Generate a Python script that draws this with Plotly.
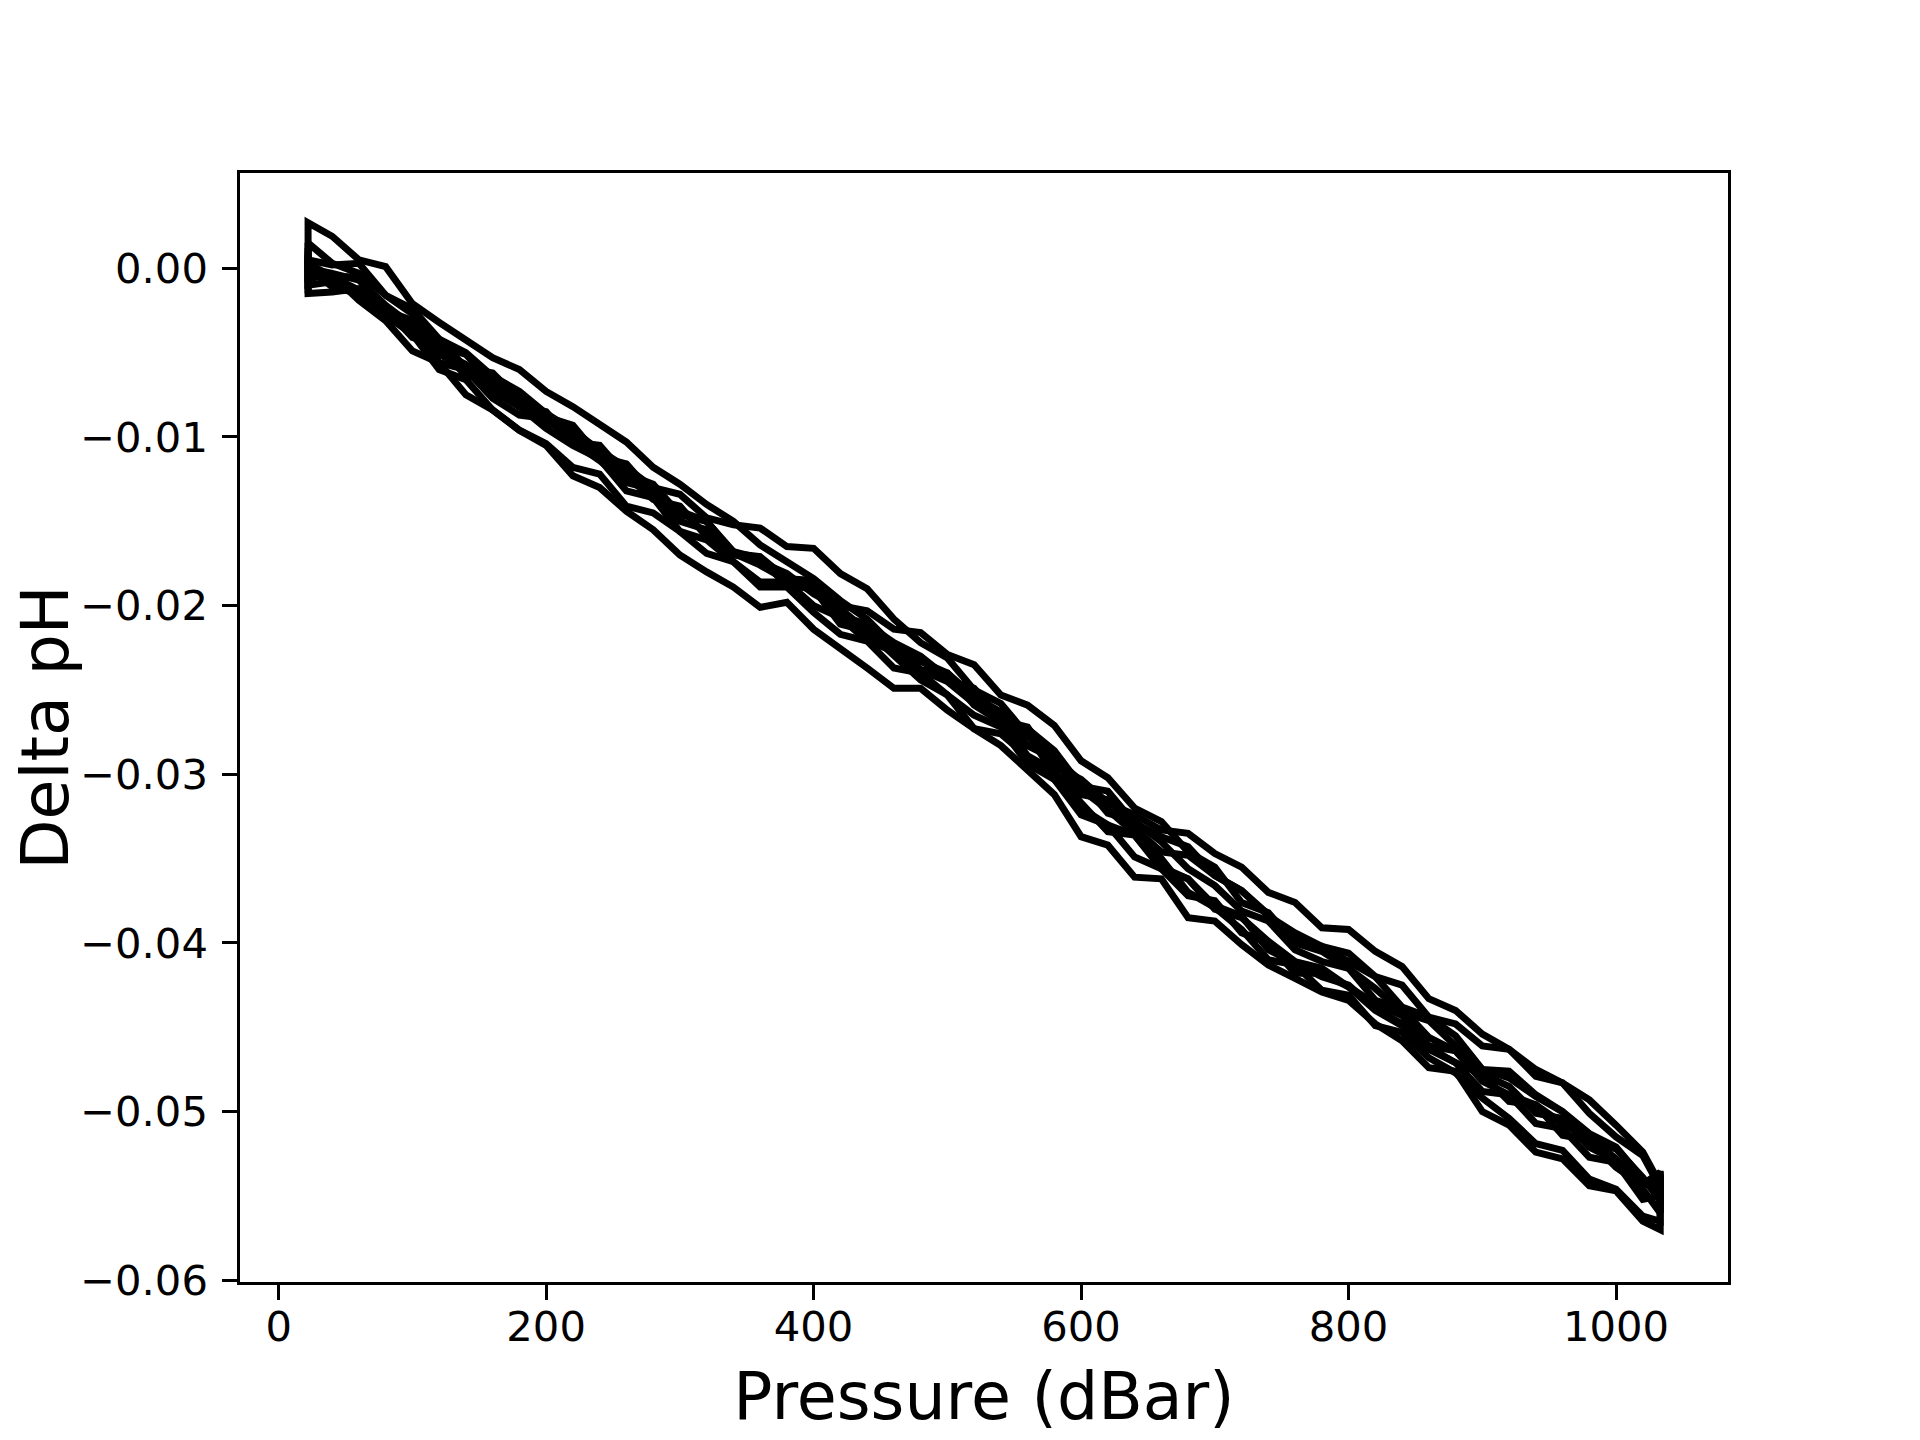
import plotly.graph_objects as go

# Pressure (dBar) for every sample; the first and last pressures repeat
pressure = [22, 22, 40, 60, 80, 100, 120, 140, 160, 180, 200, 220, 240, 260, 280, 300,
            320, 340, 360, 380, 400, 420, 440, 460, 480, 500, 520, 540, 560, 580, 600,
            620, 640, 660, 680, 700, 720, 740, 760, 780, 800, 820, 840, 860, 880, 900,
            920, 940, 960, 980, 1000, 1020, 1033, 1033]

# Delta pH of each profile, in units of 0.0001 pH
dph_1 = [-12, 27, 19, 5, 1, -21, -32, -42, -53, -60, -73, -82, -92, -103, -118, -128, -140, -150,
         -164, -174, -184, -197, -208, -224, -231, -244, -249, -267, -273, -286, -307, -310, -329,
         -337, -343, -360, -369, -383, -398, -402, -411, -420, -438, -444, -455, -475, -476, -490,
         -500, -513, -521, -540, -548, -535]
dph_2 = [2, 15, 3, -3, -16, -27, -46, -51, -68, -75, -88, -93, -112, -118, -130, -134, -148, -152,
         -154, -165, -166, -181, -190, -208, -222, -231, -250, -258, -277, -291, -304, -323, -328,
         -340, -356, -366, -381, -387, -404, -411, -415, -434, -439, -456, -464, -478, -485, -501,
         -504, -521, -529, -546, -560, -548]
dph_3 = [12, 0, -11, -15, -28, -39, -60, -66, -84, -96, -105, -123, -130, -144, -155, -170, -180,
         -189, -201, -198, -214, -225, -237, -249, -249, -262, -273, -276, -290, -303, -320, -330,
         -336, -355, -362, -378, -384, -404, -412, -420, -425, -439, -448, -462, -471, -478, -494,
         -496, -514, -517, -533, -544, -540, -552]
dph_4 = [-15, 3, -5, -5, -25, -31, -49, -57, -69, -82, -85, -103, -105, -123, -137, -141, -159,
         -168, -172, -188, -190, -211, -215, -230, -244, -253, -273, -283, -298, -312, -337, -342,
         -361, -362, -385, -387, -401, -413, -421, -429, -434, -448, -458, -474, -476, -500, -508,
         -524, -528, -544, -547, -565, -570, -557]
dph_5 = [8, 0, -3, -7, -22, -34, -42, -59, -62, -78, -92, -95, -112, -116, -134, -144, -150, -169,
         -171, -184, -185, -200, -203, -214, -216, -229, -235, -253, -259, -271, -292, -302, -320,
         -328, -346, -355, -376, -382, -400, -405, -415, -427, -441, -446, -461, -475, -480, -491,
         -500, -518, -522, -539, -553, -541]
dph_6 = [10, -3, -5, -13, -28, -36, -56, -60, -77, -87, -89, -103, -114, -127, -131, -150, -155,
         -169, -176, -185, -186, -206, -211, -222, -230, -243, -255, -268, -272, -295, -303, -317,
         -324, -333, -335, -347, -355, -370, -376, -391, -392, -405, -414, -433, -440, -454, -463,
         -479, -483, -501, -515, -526, -545, -560]
dph_7 = [4, -6, -4, -19, -31, -49, -56, -75, -84, -96, -104, -118, -122, -141, -145, -156, -169,
         -174, -186, -186, -200, -207, -221, -227, -238, -245, -258, -268, -289, -298, -317, -334,
         -336, -356, -362, -380, -385, -399, -411, -415, -426, -436, -443, -461, -464, -482, -490,
         -496, -507, -515, -528, -543, -536, -549]
dph_8 = [-8, 5, 2, 3, -16, -24, -42, -50, -64, -73, -86, -96, -108, -118, -132, -145, -150, -170,
         -172, -186, -187, -207, -217, -225, -238, -240, -259, -269, -276, -300, -309, -321, -335,
         -350, -370, -379, -392, -410, -413, -428, -431, -449, -453, -468, -477, -492, -504, -519,
         -523, -540, -546, -562, -565, -552]
dph_9 = [0, -10, -8, -16, -25, -37, -51, -59, -73, -82, -95, -105, -113, -132, -136, -156, -161,
         -174, -189, -189, -204, -217, -221, -237, -240, -253, -265, -272, -294, -303, -324, -330,
         -349, -356, -372, -375, -394, -400, -418, -418, -426, -440, -449, -463, -471, -488, -490,
         -507, -510, -527, -530, -552, -550, -538]
dph_10 = [-5, -15, -14, -12, -24, -41, -46, -64, -66, -82, -90, -99, -112, -122, -128, -146, -150,
          -168, -174, -181, -193, -202, -215, -223, -233, -240, -254, -263, -283, -291, -312, -315,
          -332, -346, -348, -360, -369, -384, -394, -402, -406, -420, -425, -444, -448, -461, -463,
          -475, -483, -493, -508, -524, -543, -556]

DPH_UNIT = 1e-4
profiles = [dph_1, dph_2, dph_3, dph_4, dph_5, dph_6, dph_7, dph_8, dph_9, dph_10]

x_tick_vals = [0, 200, 400, 600, 800, 1000]
x_tick_text = ["0", "200", "400", "600", "800", "1000"]
y_tick_vals = [0.0, -0.01, -0.02, -0.03, -0.04, -0.05, -0.06]
y_tick_text = ["0.00", "\u22120.01", "\u22120.02", "\u22120.03", "\u22120.04", "\u22120.05", "\u22120.06"]

FONT = "DejaVu Sans"

fig = go.Figure()
for prof in profiles:
    n = min(len(prof), len(pressure))
    fig.add_trace(go.Scatter(
        x=pressure[:n], y=[v * DPH_UNIT for v in prof[:n]], mode="lines",
        line=dict(color="#000000", width=7),
        showlegend=False, hoverinfo="skip",
    ))

axis_common = dict(
    showline=True, linecolor="#000000", linewidth=3.3, mirror=True,
    ticks="outside", ticklen=14.6, tickwidth=3.3, tickcolor="#000000",
    showgrid=False, zeroline=False, automargin=False,
    tickfont=dict(family=FONT, size=41.7, color="#000000"),
)

fig.update_layout(
    width=1920, height=1440,
    margin=dict(l=232, r=200, t=165, b=166, pad=0),
    paper_bgcolor="#ffffff", plot_bgcolor="#ffffff",
    font=dict(family=FONT, color="#000000"),
    xaxis=dict(
        range=[-28.9, 1083.7],
        tickmode="array", tickvals=x_tick_vals, ticktext=x_tick_text,
        ticklabelstandoff=-9,
        title=dict(text="Pressure (dBar)", font=dict(family=FONT, size=65, color="#000000"), standoff=24),
        **axis_common,
    ),
    yaxis=dict(
        range=[-0.0601, 0.00565],
        tickmode="array", tickvals=y_tick_vals, ticktext=y_tick_text,
        ticklabelstandoff=6,
        **axis_common,
    ),
    annotations=[dict(
        text="Delta pH", textangle=-90,
        xref="paper", yref="paper", x=-0.131, y=0.5,
        xanchor="center", yanchor="middle", showarrow=False, borderpad=0,
        font=dict(family=FONT, size=65, color="#000000"),
    )],
)

fig.write_html("out.html")
